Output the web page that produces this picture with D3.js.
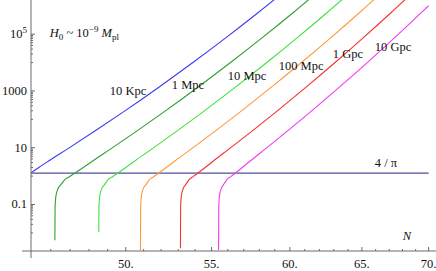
<!DOCTYPE html>
<html>
<head>
<meta charset="utf-8">
<script src="https://cdn.jsdelivr.net/npm/d3@7"></script>
<style>
    body { margin: 0; background: #fff; }
    svg { display: block; font-family: "Liberation Serif", "DejaVu Serif", serif; }
</style>
</head>
<body>
<div id="data-viz"></div>
<script>
// N (e-folds) vs value
const curve10Kpc = [[45, 1.30], [45.41, 2.05], [45.91, 3.47], [46.91, 9.5], [48.41, 42.7], [49.91, 191], [51.91, 1413], [53.91, 10440], [55.91, 77150], [57.91, 570000], [59.91, 4210000]]
const curve1Mpc = [[46.21, 0.0055], [46.22, 0.08], [46.26, 0.19], [46.36, 0.35], [46.51, 0.49], [46.71, 0.74], [46.96, 0.955], [47.26, 1.29], [47.71, 2.05], [48.21, 3.47], [49.21, 9.5], [50.71, 42.7], [52.21, 191], [54.21, 1413], [56.21, 10440], [58.21, 77150], [60.21, 570000], [62.21, 4210000]]
const curve10Mpc = [[48.52, 0.0106], [48.53, 0.08], [48.57, 0.19], [48.67, 0.35], [48.82, 0.49], [49.02, 0.74], [49.27, 0.955], [49.57, 1.29], [50.02, 2.05], [50.52, 3.47], [51.52, 9.5], [53.02, 42.7], [54.52, 191], [56.52, 1413], [58.52, 10440], [60.52, 77150], [62.52, 570000], [64.52, 4210000]]
const curve100Mpc = [[50.82, 0.0025], [50.83, 0.08], [50.87, 0.19], [50.97, 0.35], [51.12, 0.49], [51.32, 0.74], [51.57, 0.955], [51.87, 1.29], [52.32, 2.05], [52.82, 3.47], [53.82, 9.5], [55.32, 42.7], [56.82, 191], [58.82, 1413], [60.82, 10440], [62.82, 77150], [64.82, 570000], [66.82, 4210000]]
const curve1Gpc = [[53.13, 0.0029], [53.14, 0.08], [53.18, 0.19], [53.28, 0.35], [53.43, 0.49], [53.63, 0.74], [53.88, 0.955], [54.18, 1.29], [54.63, 2.05], [55.13, 3.47], [56.13, 9.5], [57.63, 42.7], [59.13, 191], [61.13, 1413], [63.13, 10440], [65.13, 77150], [67.13, 570000], [69.13, 4210000]]
const curve10Gpc = [[55.43, 0.0025], [55.44, 0.08], [55.48, 0.19], [55.58, 0.35], [55.73, 0.49], [55.93, 0.74], [56.18, 0.955], [56.48, 1.29], [56.93, 2.05], [57.43, 3.47], [58.43, 9.5], [59.93, 42.7], [61.43, 191], [63.43, 1413], [65.43, 10440], [67.43, 77150], [69.43, 570000], [70, 1000000]]

const curveNames = ["10 Kpc", "1 Mpc", "10 Mpc", "100 Mpc", "1 Gpc", "10 Gpc"]
// where each name sits, in data coordinates (N, value)
const curveLabelAt = [[49.12, 723], [52.62, 1130], [56.0, 2344], [59.26, 5285], [62.93, 14000], [65.94, 25760]]

const threshold = 4 / Math.PI
const thresholdRange = [45, 70]

const xDomain = [45, 70.5]
const yDomain = [0.0023, 1.6e6]
const xMajorTicks = [50, 55, 60, 65, 70]
const xMinorTicks = [46, 47, 48, 49, 51, 52, 53, 54, 56, 57, 58, 59, 61, 62, 63, 64, 66, 67, 68, 69]
const yLabelTicks = [0.1, 10, 1000, 1e5]
const yLabelText = [["0.1"], ["10"], ["1000"], ["10", "5"]]
const yDecadeTicks = [0.01, 1, 100, 1e4]

function drawChart() {

    // 1. Dimensions
    const dimensions = {
        width: 436,
        height: 271,
        left: 31,
        right: 435,
        top: 0,
        axisY: 251,
    }

    const colors = ["#3b3bf2", "#2f9f2f", "#3fe23f", "#ff9a3c", "#f53232", "#f23cf2"]
    const fontSize = 12.5

    // 2. Canvas
    const wrapper = d3.select("#data-viz")
        .append("svg")
        .attr("width", dimensions.width)
        .attr("height", dimensions.height)

    wrapper.append("defs")
        .append("clipPath")
        .attr("id", "plot-clip")
        .append("rect")
            .attr("x", dimensions.left)
            .attr("y", dimensions.top)
            .attr("width", dimensions.width - dimensions.left)
            .attr("height", dimensions.axisY - dimensions.top)

    // 3. Scales
    const xScale = d3.scaleLog()
        .domain(xDomain)
        .range([dimensions.left, dimensions.right])

    const yScale = d3.scaleLog()
        .domain(yDomain)
        .range([dimensions.axisY, dimensions.top])

    // 4. Data
    const curves = [curve10Kpc, curve1Mpc, curve10Mpc, curve100Mpc, curve1Gpc, curve10Gpc]

    const lineGenerator = d3.line()
        .x(d => xScale(d[0]))
        .y(d => yScale(d[1]))
        .curve(d3.curveMonotoneX)

    const plot = wrapper.append("g")
        .attr("clip-path", "url(#plot-clip)")

    plot.append("line")
        .attr("x1", xScale(thresholdRange[0]))
        .attr("x2", xScale(thresholdRange[1]))
        .attr("y1", yScale(threshold))
        .attr("y2", yScale(threshold))
        .attr("stroke", "#4f4fa0")
        .attr("stroke-width", 1.2)

    plot.selectAll(".curve")
        .data(curves)
        .join("path")
            .attr("class", "curve")
            .attr("d", lineGenerator)
            .attr("fill", "none")
            .attr("stroke", (d, i) => colors[i])
            .attr("stroke-width", 1.1)

    // 5. Peripherals
    const axisColor = "#6a6a6a"

    wrapper.append("line")
        .attr("x1", dimensions.left - 9)
        .attr("x2", dimensions.width)
        .attr("y1", dimensions.axisY)
        .attr("y2", dimensions.axisY)
        .attr("stroke", axisColor)

    wrapper.append("line")
        .attr("x1", dimensions.left)
        .attr("x2", dimensions.left)
        .attr("y1", 0)
        .attr("y2", dimensions.axisY + 7)
        .attr("stroke", axisColor)

    // x ticks
    wrapper.selectAll(".x-major")
        .data(xMajorTicks)
        .join("line")
            .attr("class", "x-major")
            .attr("x1", d => xScale(d))
            .attr("x2", d => xScale(d))
            .attr("y1", dimensions.axisY)
            .attr("y2", dimensions.axisY - 4)
            .attr("stroke", axisColor)

    wrapper.selectAll(".x-minor")
        .data(xMinorTicks)
        .join("line")
            .attr("class", "x-minor")
            .attr("x1", d => xScale(d))
            .attr("x2", d => xScale(d))
            .attr("y1", dimensions.axisY)
            .attr("y2", dimensions.axisY - 2)
            .attr("stroke", axisColor)

    wrapper.selectAll(".x-label")
        .data(xMajorTicks)
        .join("text")
            .attr("class", "x-label")
            .attr("x", d => xScale(d))
            .attr("y", dimensions.axisY + 17)
            .attr("text-anchor", "middle")
            .attr("font-size", fontSize)
            .attr("fill", "#111")
            .text(d => d + ".")

    // y ticks
    const yMinorTicks = yDecadeTicks.flatMap(d => d3.range(2, 10).map(k => k * d))

    wrapper.selectAll(".y-major")
        .data(yLabelTicks)
        .join("line")
            .attr("class", "y-major")
            .attr("x1", dimensions.left)
            .attr("x2", dimensions.left + 4)
            .attr("y1", d => yScale(d))
            .attr("y2", d => yScale(d))
            .attr("stroke", axisColor)

    wrapper.selectAll(".y-minor")
        .data(yDecadeTicks.concat(yMinorTicks))
        .join("line")
            .attr("class", "y-minor")
            .attr("x1", dimensions.left)
            .attr("x2", dimensions.left + 2)
            .attr("y1", d => yScale(d))
            .attr("y2", d => yScale(d))
            .attr("stroke", axisColor)

    const yLabels = wrapper.selectAll(".y-label")
        .data(yLabelTicks)
        .join("text")
            .attr("class", "y-label")
            .attr("x", dimensions.left - 4)
            .attr("y", d => yScale(d) + 4)
            .attr("text-anchor", "end")
            .attr("font-size", fontSize)
            .attr("fill", "#111")

    yLabels.each(function(d, i) {
        const parts = yLabelText[i]
        const el = d3.select(this)
        el.append("tspan").text(parts[0])
        if (parts.length > 1) {
            el.append("tspan")
                .attr("dy", -5)
                .attr("font-size", fontSize * 0.72)
                .text(parts[1])
        }
    })

    // curve names
    wrapper.selectAll(".curve-label")
        .data(curveNames)
        .join("text")
            .attr("class", "curve-label")
            .attr("x", (d, i) => xScale(curveLabelAt[i][0]))
            .attr("y", (d, i) => yScale(curveLabelAt[i][1]))
            .attr("font-size", fontSize)
            .attr("fill", "#111")
            .text(d => d)

    // 4/pi
    wrapper.append("text")
        .attr("x", xScale(65.94))
        .attr("y", yScale(2.08))
        .attr("font-size", fontSize)
        .attr("fill", "#111")
        .text("4 / π")

    // axis name N
    wrapper.append("text")
        .attr("x", xScale(68.02))
        .attr("y", yScale(0.00555))
        .attr("font-size", fontSize)
        .attr("font-style", "italic")
        .attr("fill", "#111")
        .text("N")

    // H0 ~ 10^-9 Mpl
    const title = wrapper.append("text")
        .attr("x", xScale(45.95))
        .attr("y", yScale(80350))
        .attr("font-size", fontSize)
        .attr("fill", "#111")

    title.append("tspan").attr("font-style", "italic").text("H")
    title.append("tspan").attr("dy", 3).attr("font-size", fontSize * 0.72).text("0")
    title.append("tspan").attr("dy", -3).text(" ~ 10")
    title.append("tspan").attr("dy", -5).attr("font-size", fontSize * 0.72).text("−9")
    title.append("tspan").attr("dy", 5).text(" ")
    title.append("tspan").attr("font-style", "italic").text("M")
    title.append("tspan").attr("dy", 3).attr("font-size", fontSize * 0.72).text("pl")
}

drawChart()
</script>
</body>
</html>
